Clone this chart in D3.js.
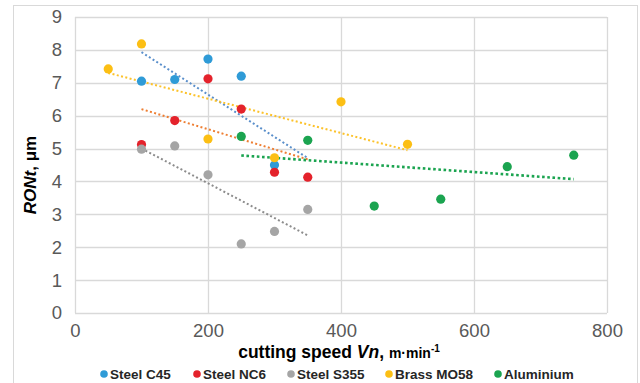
<!DOCTYPE html>
<html><head><meta charset="utf-8">
<script src="https://cdn.jsdelivr.net/npm/d3@7"></script>
<style>body{margin:0;background:#fff}svg{display:block;font-family:"Liberation Sans",Arial,sans-serif}</style>
</head><body><svg id="c" width="640" height="383"></svg>
<script>
const seriesNames = ["Steel C45","Steel NC6","Steel S355","Brass MO58","Aluminium"];
const seriesColors = ["#2f9bd7","#e4222b","#a5a5a5","#fcbf14","#1ba450"];
const trendColors = ["#5a8fcb","#ee7e32","#8c8c8c","#fcc22a","#1ba450"];
const c45X = [100,150,200,250,300];
const c45Y = [7.05,7.1,7.72,7.2,4.5];
const nc6X = [100,150,200,250,300,350];
const nc6Y = [5.12,5.85,7.12,6.2,4.28,4.13];
const s355X = [100,150,200,250,300,350];
const s355Y = [4.98,5.08,4.2,2.1,2.48,3.15];
const brassX = [50,100,200,300,400,500];
const brassY = [7.42,8.18,5.29,4.72,6.42,5.13];
const aluX = [250,350,450,550,650,750];
const aluY = [5.37,5.25,3.25,3.46,4.45,4.8];
// trendline endpoints [x0,y0,x1,y1]
const trendC45 = [100,7.93,350,4.71];
const trendNC6 = [100,6.2,350,4.67];
const trendS355 = [100,5.0,350,2.36];
const trendBrass = [50,7.3,500,4.95];
const trendAlu = [250,4.79,750,4.07];
const xTicks = [0,200,400,600,800];
const yTicks = [0,1,2,3,4,5,6,7,8,9];

const series = [
  {x:c45X,y:c45Y,t:trendC45},
  {x:nc6X,y:nc6Y,t:trendNC6},
  {x:s355X,y:s355Y,t:trendS355},
  {x:brassX,y:brassY,t:trendBrass},
  {x:aluX,y:aluY,t:trendAlu}
];

const svg = d3.select("#c");
const L=75,R=607,T=17,B=313;
const x = d3.scaleLinear().domain([0,800]).range([L,R]);
const y = d3.scaleLinear().domain([0,9]).range([B,T]);

svg.append("rect").attr("x",13.5).attr("y",5.5).attr("width",624).attr("height",400)
  .attr("fill","#fff").attr("stroke","#d9d9d9").attr("stroke-width",1);

// gridlines
svg.append("g").selectAll("line").data(yTicks).join("line")
  .attr("x1",L).attr("x2",R).attr("y1",d=>Math.round(y(d))+0.5).attr("y2",d=>Math.round(y(d))+0.5)
  .attr("stroke","#d9d9d9").attr("stroke-width",1.3);
svg.append("g").selectAll("line").data(xTicks).join("line")
  .attr("y1",T).attr("y2",B).attr("x1",d=>Math.round(x(d))+0.5).attr("x2",d=>Math.round(x(d))+0.5)
  .attr("stroke","#d9d9d9").attr("stroke-width",1.3);

// axes labels via d3 axes
const ya = svg.append("g").attr("transform",`translate(${L},0)`)
  .call(d3.axisLeft(y).tickValues(yTicks).tickSize(0).tickPadding(13));
const xa = svg.append("g").attr("transform",`translate(0,${B})`)
  .call(d3.axisBottom(x).tickValues(xTicks).tickSize(0).tickPadding(11));
[ya,xa].forEach(a=>{a.select(".domain").remove();
  a.selectAll("text").attr("fill","#595959").attr("font-size",18.5).attr("font-family","Liberation Sans, Arial, sans-serif");});

// trendlines
series.forEach((s,i)=>{
  svg.append("line").attr("x1",x(s.t[0])).attr("y1",y(s.t[1])).attr("x2",x(s.t[2])).attr("y2",y(s.t[3]))
    .attr("stroke",trendColors[i]).attr("stroke-width",i===4?2.6:2)
    .attr("stroke-dasharray",i===4?"2.6,2.6":"2,2.4");
});
// points
series.forEach((s,i)=>{
  svg.append("g").selectAll("circle").data(s.x.map((v,j)=>[v,s.y[j]])).join("circle")
    .attr("cx",d=>x(d[0])).attr("cy",d=>y(d[1])).attr("r",4.6).attr("fill",seriesColors[i]);
});

// axis titles
const yt = svg.append("text").attr("transform","translate(36,175) rotate(-90)")
  .attr("text-anchor","middle").attr("font-weight","bold").attr("font-size",17).attr("fill","#000");
yt.append("tspan").attr("font-style","italic").text("RONt");
yt.append("tspan").text(", μm");

const xt = svg.append("text").attr("x",339).attr("y",358).attr("text-anchor","middle")
  .attr("font-weight","bold").attr("font-size",17.5).attr("fill","#000");
xt.append("tspan").text("cutting speed ");
xt.append("tspan").attr("font-style","italic").text("Vn");
xt.append("tspan").text(", ");
xt.append("tspan").attr("font-size",14).text("m·min");
xt.append("tspan").attr("font-size",10).attr("dy",-6).text("-1");

// legend
const legX = [104,197,291,389,498];
const lg = svg.append("g");
seriesNames.forEach((n,i)=>{
  lg.append("circle").attr("cx",legX[i]).attr("cy",374).attr("r",3.8).attr("fill",seriesColors[i]);
  lg.append("text").attr("x",legX[i]+6).attr("y",379).attr("font-size",13.5).attr("font-weight","bold")
    .attr("fill","#262626").text(n);
});
</script></body></html>
